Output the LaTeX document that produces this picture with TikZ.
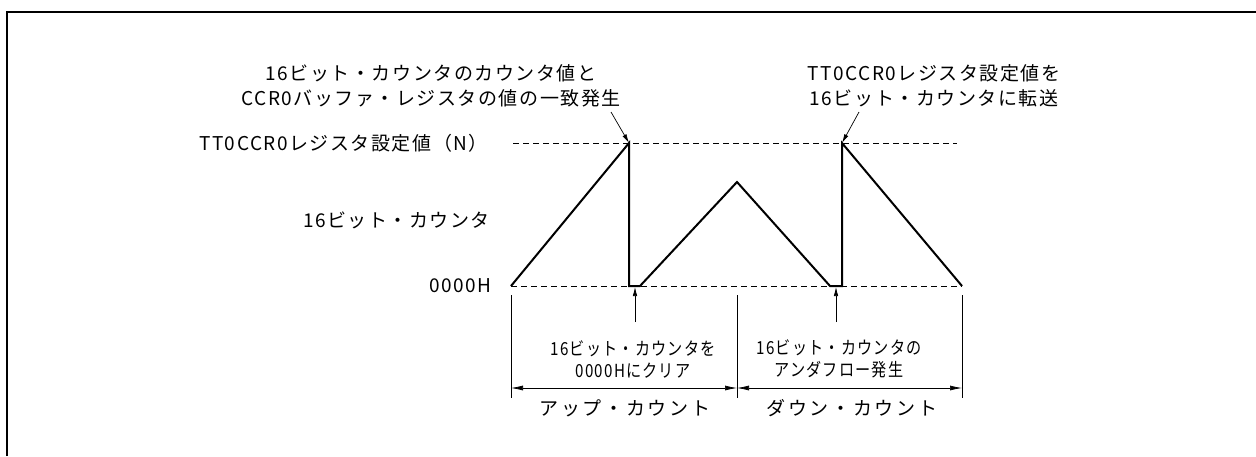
\documentclass[tikz,border=0pt]{standalone}
\usepackage{fontspec}
\usepackage{graphicx}
\newfontfamily\jp[LetterSpace=8]{Noto Sans CJK JP}
\newfontfamily\jpw[Kerning=Off,LetterSpace=14]{Noto Sans CJK JP}
\usetikzlibrary{arrows.meta}
\tikzset{
  lab/.style={inner sep=0pt, font=\jp\fontsize{19}{25}\selectfont},
  sml/.style={inner sep=0pt, font=\jp\fontsize{18}{22}\selectfont},
  dimlab/.style={inner sep=0pt, font=\jpw\fontsize{19}{25}\selectfont},
  wave/.style={line width=2pt, line join=miter},
  guide/.style={line width=0.9pt, dash pattern=on 6pt off 4pt},
  ext/.style={line width=0.6pt},
  ptr/.style={line width=0.7pt, -{Latex[length=9pt,width=4.5pt]}},
  dim/.style={line width=0.7pt, {Latex[length=12pt,width=5pt]}-{Latex[length=12pt,width=5pt]}},
  frame/.style={line width=1.4pt}
}
\begin{document}
\begin{tikzpicture}[x=1pt,y=-1pt]
\useasboundingbox (0,0) rectangle (1256,456);
% frame (cropped)
\coordinate (fb) at (7,456);
\coordinate (ft) at (7,12);
\coordinate (fr) at (1256,12);
\draw[frame] (fb) -- (ft) -- (fr);

% guide lines
\coordinate (tl) at (513,143);
\coordinate (tr) at (957,143);
\coordinate (bl) at (511,286);
\coordinate (br) at (962,286);
\draw[guide] (tl) -- (tr);
\draw[guide] (bl) -- (br);

% waveform
\coordinate (w0) at (511,286);
\coordinate (w1) at (629,143);
\coordinate (w2) at (629,286);
\coordinate (w3) at (640,286);
\coordinate (w4) at (737,182);
\coordinate (w5) at (830,286);
\coordinate (w6) at (842,286);
\coordinate (w7) at (842,143);
\coordinate (w8) at (962,286);
\draw[wave] (w0) -- (w1) -- (w2) -- (w3) -- (w4) -- (w5) -- (w6) -- (w7) -- (w8);

% left labels
\node[lab, anchor=east] (lN) at (488,143) {TT0CCR0レジスタ設定値（N）};
\node[lab, anchor=east] (lC) at (490,220) {16ビット・カウンタ};
\node[lab, anchor=east] (l0) at (492,286) {0000H};

% top notes
\node[lab, align=center] (nMatch) at (431,86) {16ビット・カウンタのカウンタ値と\\CCR0バッファ・レジスタの値の一致発生};
\node[lab, align=center] (nLoad) at (934,86) {TT0CCR0レジスタ設定値を\\16ビット・カウンタに転送};
\coordinate (a1) at (611,112);
\coordinate (a2) at (859,112);
\draw[ptr] (a1) -- (w1);
\draw[ptr] (a2) -- (w7);

% bottom notes
\coordinate (u1s) at (635,322);
\coordinate (u1e) at (635,287);
\coordinate (u2s) at (836,322);
\coordinate (u2e) at (836,287);
\draw[ptr] (u1s) -- (u1e);
\draw[ptr] (u2s) -- (u2e);
\node[sml, align=center] (nClr) at (633,359) {\scalebox{0.84}[1]{16ビット・カウンタを}\\\scalebox{0.84}[1]{0000Hにクリア}};
\node[sml, align=center] (nUnd) at (839,359) {\scalebox{0.84}[1]{16ビット・カウンタの}\\\scalebox{0.84}[1]{アンダフロー発生}};

% extension lines
\coordinate (e1t) at (511,295); \coordinate (e1b) at (511,398);
\coordinate (e2t) at (737,295); \coordinate (e2b) at (737,398);
\coordinate (e3t) at (962,295); \coordinate (e3b) at (962,398);
\draw[ext] (e1t) -- (e1b);
\draw[ext] (e2t) -- (e2b);
\draw[ext] (e3t) -- (e3b);

% dimension lines
\coordinate (d1) at (511,388);
\coordinate (d2) at (737,388);
\coordinate (d3) at (962,388);
\draw[dim] (d1) -- (d2);
\draw[dim] (d2) -- (d3);
\node[dimlab] (up) at (625,408) {アップ・カウント};
\node[dimlab] (down) at (852,408) {ダウン・カウント};
\end{tikzpicture}
\end{document}
